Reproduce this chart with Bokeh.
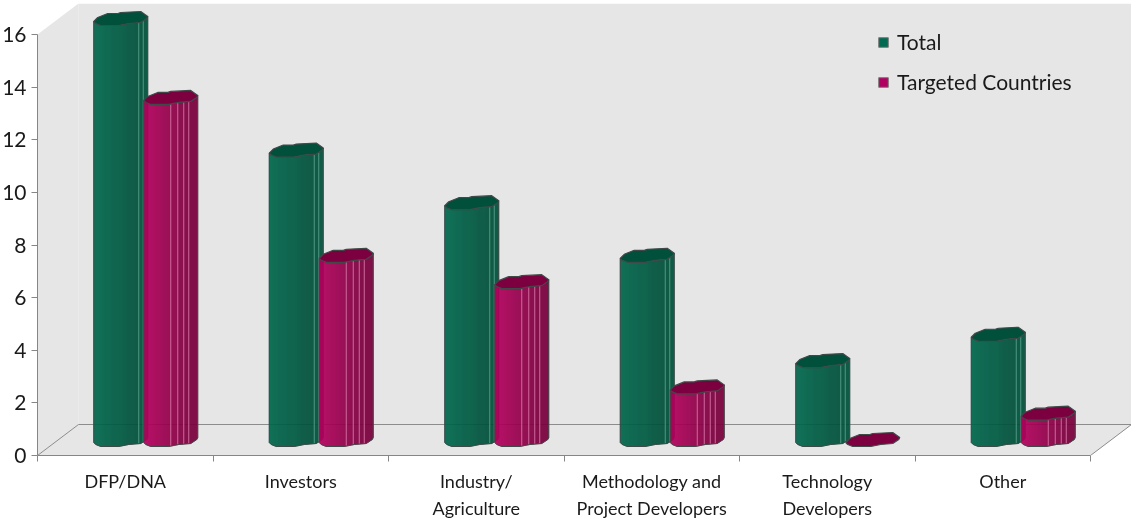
import numpy as np
from bokeh.embed import file_html
from bokeh.models import FixedTicker, LinearAxis, Legend, LegendItem, Range1d
from bokeh.plotting import figure
from bokeh.resources import INLINE

categories_line1 = ["DFP/DNA", "Investors", "Industry/", "Methodology and", "Technology", "Other"]
categories_line2 = ["", "", "Agriculture", "Project Developers", "Developers", ""]
total = [16, 11, 9, 7, 3, 4]
targeted = [13, 7, 6, 2, 0, 1]
y_ticks = [0, 2, 4, 6, 8, 10, 12, 14, 16]

FONT = "Lato"
INK = "#1a1a1a"
AXIS = "#868686"
WALL = "#e6e6e6"
OUT = "#3f4a48"

# layout, in pixels of the page
W, H = 1131, 520
LEFT, BOTTOM, TOP = 37, 455, 3
CAT_PX = 175.5
UNIT_PX = 26.3125
DEPTH_X, DEPTH_Y = 41, 31
xs_u = 1 / CAT_PX
ys_u = 1 / UNIT_PX

p = figure(
    width=W, height=H, output_backend="svg", toolbar_location=None,
    x_range=Range1d(0, (W - LEFT) * xs_u), y_range=Range1d(0, (BOTTOM - TOP) * ys_u),
    min_border_left=LEFT, min_border_right=0, min_border_top=TOP, min_border_bottom=H - BOTTOM,
    frame_height=BOTTOM - TOP, frame_width=W - LEFT,
    background_fill_color=None, border_fill_color="white", outline_line_color=None,
    x_axis_location=None, y_axis_location=None,
)
p.styles = {"position": "fixed", "left": "-1px", "top": "0px"}
p.grid.visible = False

ncat = len(total)
dx, dy = DEPTH_X * xs_u, DEPTH_Y * ys_u
ymax = max(y_ticks)

# walls and floor
p.patch([dx, ncat + dx + 0.01, ncat + dx + 0.01, dx], [dy, dy, ymax + dy, ymax + dy], fill_color=WALL, line_color=None)
p.patch([0, dx, dx, 0], [0, dy, ymax + dy, ymax], fill_color=WALL, line_color=None)
p.patch([0, ncat, ncat + dx, dx], [0, 0, dy, dy], fill_color=WALL, line_color=None)
p.multi_line(
    [[0, dx, ncat + dx, ncat], ],
    [[0, dy, dy, 0], ],
    line_color="#8c8c8c", line_width=1,
)

# cylinder outline around centre (pixels; y positive is upward)
upper = [(-27, -2.5), (-23, 1.5), (-13, 5.5), (-3, 5.5), (0, 6.5), (20, 7.5), (27, 2.5)]
lower_x = np.array([-27, -25, -20, -2, 8, 20, 26, 27], float)
lower_y = np.array([-2.5, -4.5, -6.5, -6.5, -4.5, -3.5, 0.5, 2.5], float)
top_outline = upper + [(26, 0.5), (20, -3.5), (8, -4.5), (-2, -6.5), (-20, -6.5), (-25, -4.5)]


def blend(a, b, t):
    return "#%02x%02x%02x" % tuple(int(round(a[i] + (b[i] - a[i]) * t)) for i in range(3))


def draw_bar(xc, value, light, dark, cap, facet_lines, facet):
    xf = np.arange(-27, 27.01, 1.0)
    lo = np.interp(xf, lower_x, lower_y)
    sx, sy, cols = [], [], []
    if value > 0:
        for i in range(len(xf) - 1):
            t = (xf[i] + 27) / 54
            col = blend(light, dark, min(1, t * 1.2))
            sx.append(list(xc + np.array([xf[i], xf[i + 1], xf[i + 1], xf[i]]) * xs_u))
            yl = dy / 2 + lo[i:i + 2] * ys_u
            yu = value + dy / 2 + lo[i:i + 2] * ys_u
            sy.append([yl[0], yl[1], yu[1], yu[0]])
            cols.append(col)
        p.patches(sx, sy, fill_color=cols, line_color=cols, line_width=0.4)
        for fx in facet_lines:
            yb = dy / 2 + np.interp(fx, lower_x, lower_y) * ys_u
            p.line([xc + fx * xs_u] * 2, [yb, yb + value], line_color=facet, line_width=1)
        ox = list(xc + lower_x * xs_u) + [xc + lower_x[-1] * xs_u, xc + lower_x[0] * xs_u, xc + lower_x[0] * xs_u]
        oy = list(dy / 2 + lower_y * ys_u) + [value + dy / 2 + lower_y[-1] * ys_u, value + dy / 2 + lower_y[0] * ys_u, dy / 2 + lower_y[0] * ys_u]
        p.line(ox, oy, line_color=OUT, line_width=1)
    tx = [xc + a * xs_u for a, _ in top_outline]
    ty = [value + dy / 2 + b * ys_u for _, b in top_outline]
    p.patch(tx, ty, fill_color=cap, line_color=OUT, line_width=1.2)


GREEN = ((0, 104, 78), (0, 80, 58), "#00503c", "#006b50", "#4f9885")
MAROON = ((182, 0, 94), (122, 0, 62), "#7c0040", "#b00060", "#d0689c")
off = 25 * xs_u
mid_x = dx / 2
for i in range(ncat):
    c = i + 0.5 + mid_x
    draw_bar(c - off, total[i], GREEN[0], GREEN[1], GREEN[2], [18, 22.5], GREEN[4])
    draw_bar(c + off, targeted[i], MAROON[0], MAROON[1], MAROON[2], [0, 7, 13, 18], MAROON[4])

# axes
yax = LinearAxis(ticker=FixedTicker(ticks=y_ticks), bounds=(0, ymax))
yax.axis_line_color = AXIS
yax.major_tick_line_color = AXIS
yax.minor_tick_line_color = None
yax.major_tick_out = 6
yax.major_tick_in = 0
yax.major_label_text_font = FONT
yax.major_label_text_font_size = "21px"
yax.major_label_text_color = INK
yax.major_label_standoff = 5
p.add_layout(yax, "left")

centers = [i + 0.5 for i in range(ncat)]
xax = LinearAxis(
    ticker=FixedTicker(ticks=centers, minor_ticks=list(range(ncat + 1))),
    major_label_overrides=dict(zip(centers, categories_line1)),
    bounds=(0, ncat),
)
xax.axis_line_color = AXIS
xax.major_tick_line_color = None
xax.minor_tick_line_color = AXIS
xax.minor_tick_out = 6
xax.minor_tick_in = 0
xax.major_tick_out = 0
xax.major_tick_in = 0
xax.major_label_text_font = FONT
xax.major_label_text_font_size = "18px"
xax.major_label_text_color = INK
xax.major_label_standoff = 8
xax.major_label_orientation = "horizontal"
p.add_layout(xax, "below")

xax2 = LinearAxis(
    ticker=FixedTicker(ticks=centers),
    major_label_overrides=dict(zip(centers, categories_line2)),
)
xax2.axis_line_color = None
xax2.major_tick_line_color = None
xax2.minor_tick_line_color = None
xax2.major_tick_out = 0
xax2.major_tick_in = 0
xax2.major_label_text_font = FONT
xax2.major_label_text_font_size = "18px"
xax2.major_label_text_color = INK
xax2.major_label_standoff = 2
p.add_layout(xax2, "below")

# legend
r1 = p.quad(left=[np.nan], right=[np.nan], top=[np.nan], bottom=[np.nan], fill_color="#006b50", line_color="#7a7a7a")
r2 = p.quad(left=[np.nan], right=[np.nan], top=[np.nan], bottom=[np.nan], fill_color="#b00060", line_color="#7a7a7a")
legend = Legend(
    items=[LegendItem(label="Total", renderers=[r1]), LegendItem(label="Targeted Countries", renderers=[r2])],
    location=(840, 361), orientation="vertical",
    background_fill_alpha=0, border_line_color=None,
    glyph_width=12, glyph_height=12, label_standoff=8, spacing=15,
    label_text_font=FONT, label_text_font_size="21px", label_text_color=INK,
    padding=0, margin=0,
)
p.add_layout(legend, "center")

open("out.html", "w").write(file_html(p, INLINE))
